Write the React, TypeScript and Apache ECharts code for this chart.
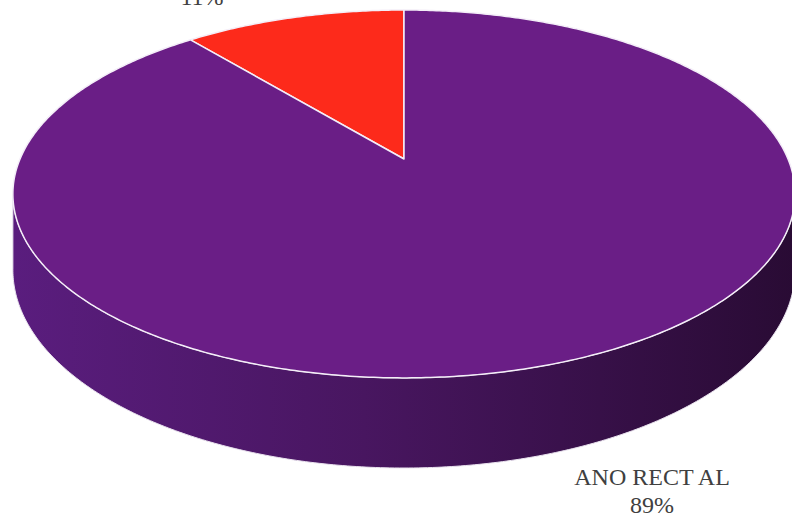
import React, { useEffect, useRef } from "react";
import * as echarts from "echarts";

const categories = ["OTROS", "ANO RECT AL"];
const values = [11, 89];
const showName = [false, true];
const topColors = ["#fd2a1b", "#6a1e86"];

// layout (not data)
const CX = 404, CY = 159, RX = 384, RY = 177.3, PERSP = 0.19, DEPTH = 73;
const labelAnchors = [
  [202, -3],
  [652, 491],
];

export default function App() {
  const ref = useRef<HTMLDivElement>(null);
  useEffect(() => {
    const chart = echarts.init(ref.current!, null, { renderer: "svg" });
    const total = values.reduce((a, b) => a + b, 0);
    const starts: number[] = [];
    let acc = 0;
    values.forEach((v) => { starts.push(acc); acc += v; });

    const proj = (phi: number, drop: boolean) => {
      const u = Math.cos(phi), v = Math.sin(phi);
      const s = 1 / (1 + PERSP * v);
      return [CX + RX * u * s, CY - RY * v * s + (drop ? DEPTH * s : 0)];
    };
    const arc = (a: number, b: number, drop: boolean) => {
      const pts: number[][] = [];
      const n = Math.max(2, Math.ceil(Math.abs(b - a) / 0.01));
      for (let k = 0; k <= n; k++) pts.push(proj(a + ((b - a) * k) / n, drop));
      return pts;
    };

    const renderItem = (params: any, api: any) => {
      const i = params.dataIndex;
      const a0 = Math.PI / 2 + (2 * Math.PI * starts[i]) / total;
      const a1 = Math.PI / 2 + (2 * Math.PI * (starts[i] + values[i])) / total;
      const children: any[] = [];
      const visLo = Math.PI + Math.asin(PERSP);
      const visHi = 2 * Math.PI - Math.asin(PERSP);
      const lo = Math.max(a0, visLo), hi = Math.min(a1, visHi);
      if (lo < hi) {
        const top = arc(lo, hi, false);
        const bot = arc(lo, hi, true).reverse();
        children.push({
          type: "polygon",
          shape: { points: top.concat(bot) },
          style: {
            fill: new echarts.graphic.LinearGradient(0, 0, 1, 0, [
              { offset: 0, color: "#5a1d7e" },
              { offset: 0.45, color: "#481660" },
              { offset: 1, color: "#290b34" },
            ]),
            stroke: "#e9e2ee",
            lineWidth: 1,
          },
        });
      }
      const face = [[CX, CY]].concat(arc(a0, a1, false));
      children.push({
        type: "polygon",
        shape: { points: face },
        style: { fill: topColors[i], stroke: "#f4eef8", lineWidth: 1.5, lineJoin: "round" },
      });
      const pct = Math.round((values[i] / total) * 100) + "%";
      children.push({
        type: "text",
        x: labelAnchors[i][0],
        y: labelAnchors[i][1],
        style: {
          text: showName[i] ? categories[i] + "\n" + pct : pct,
          fill: "#404040",
          fontFamily: "Liberation Serif",
          fontSize: 24,
          lineHeight: 28,
          align: "center",
          verticalAlign: "middle",
        },
      });
      return { type: "group", children };
    };

    chart.setOption({
      animation: false,
      backgroundColor: "#ffffff",
      series: [
        {
          type: "custom",
          coordinateSystem: "none",
          renderItem,
          data: values.map((v, i) => ({ name: categories[i], value: v })),
        },
      ],
    });
    return () => chart.dispose();
  }, []);
  return (
    <div
      ref={ref}
      style={{ position: "fixed", left: 0, top: 0, width: 792, height: 517 }}
    />
  );
}
